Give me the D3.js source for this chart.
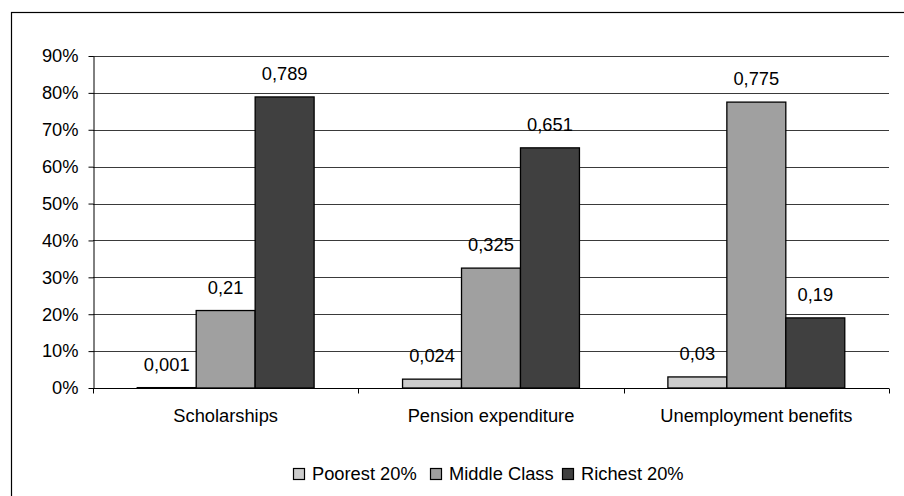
<!DOCTYPE html>
<html>
<head>
<meta charset="utf-8">
<script src="https://cdn.jsdelivr.net/npm/d3@7"></script>
<style>
  html, body { margin: 0; padding: 0; background: #fff; }
  svg { display: block; font-family: "Liberation Sans", Arial, sans-serif; }
</style>
</head>
<body>
<svg id="chart" width="904" height="496"></svg>
<script>
// Share of each programme's spending received by income group
const categories = ["Scholarships", "Pension expenditure", "Unemployment benefits"];
const seriesNames = ["Poorest 20%", "Middle Class", "Richest 20%"];
const poorest = [0.001, 0.024, 0.03];
const middle = [0.21, 0.325, 0.775];
const richest = [0.789, 0.651, 0.19];
const seriesValues = [poorest, middle, richest];
const yTicks = [0, 0.1, 0.2, 0.3, 0.4, 0.5, 0.6, 0.7, 0.8, 0.9];
const colors = ["#cccccc", "#a0a0a0", "#404040"];

const FS = 18.3;
const svg = d3.select("#chart");

// chart frame
svg.append("rect")
  .attr("x", 11.5).attr("y", 12.5)
  .attr("width", 1000).attr("height", 1000)
  .attr("fill", "none").attr("stroke", "#000").attr("stroke-width", 1.2);

const plot = { left: 93, right: 889, top: 56, bottom: 388 };

const x0 = d3.scaleBand().domain(categories)
  .range([plot.left, plot.right]).paddingInner(0).paddingOuter(0);
const x1 = d3.scaleBand().domain(seriesNames)
  .range([0, x0.bandwidth()]).paddingInner(0).paddingOuter(0.75);
const y = d3.scaleLinear().domain([0, 0.9]).range([plot.bottom, plot.top]);

// gridlines
svg.append("g").selectAll("line").data(yTicks.filter(d => d > 0)).join("line")
  .attr("x1", plot.left).attr("x2", plot.right)
  .attr("y1", d => Math.round(y(d)) + 0.5).attr("y2", d => Math.round(y(d)) + 0.5)
  .attr("stroke", "#3a3a3a").attr("stroke-width", 1);

// y axis
const yAxis = svg.append("g").attr("transform", `translate(${plot.left + 0.5},0)`)
  .call(d3.axisLeft(y).tickValues(yTicks).tickFormat(d3.format(".0%")).tickSize(5).tickPadding(10).tickSizeOuter(0));
yAxis.select(".domain").attr("stroke", "#000");
yAxis.selectAll(".tick line").attr("stroke", "#000");
yAxis.selectAll(".tick text").attr("font-size", FS).attr("fill", "#000")
  .attr("font-family", "Liberation Sans, Arial, sans-serif");

// bars
const groups = svg.append("g").selectAll("g").data(categories).join("g")
  .attr("transform", d => `translate(${x0(d)},0)`);

groups.each(function(cat, ci) {
  const g = d3.select(this);
  seriesNames.forEach((s, si) => {
    const v = seriesValues[si][ci];
    g.append("rect")
      .attr("x", x1(s)).attr("width", x1.bandwidth())
      .attr("y", y(v)).attr("height", Math.max(0, y(0) - y(v)))
      .attr("fill", colors[si]).attr("stroke", "#000").attr("stroke-width", 1.3);
    g.append("text")
      .attr("x", x1(s) + x1.bandwidth() / 2)
      .attr("y", y(v) - 17)
      .attr("text-anchor", "middle")
      .attr("font-size", FS).attr("fill", "#000")
      .text(String(v).replace(".", ","));
  });
});

// x axis
const xAxis = svg.append("g").attr("transform", `translate(0,${plot.bottom + 0.5})`);
xAxis.append("line").attr("x1", plot.left).attr("x2", plot.right)
  .attr("stroke", "#000");
xAxis.selectAll("line.tk").data(d3.range(categories.length + 1)).join("line")
  .attr("class", "tk")
  .attr("x1", i => Math.round(plot.left + i * x0.bandwidth()) + 0.5)
  .attr("x2", i => Math.round(plot.left + i * x0.bandwidth()) + 0.5)
  .attr("y1", 0).attr("y2", 5).attr("stroke", "#000");
xAxis.selectAll("text").data(categories).join("text")
  .attr("x", d => x0(d) + x0.bandwidth() / 2)
  .attr("y", 33)
  .attr("text-anchor", "middle")
  .attr("font-size", FS).attr("fill", "#000")
  .text(d => d);

// legend
const legendItems = [
  { name: seriesNames[0], x: 293 },
  { name: seriesNames[1], x: 430 },
  { name: seriesNames[2], x: 562 }
];
const legend = svg.append("g").attr("transform", "translate(0,468)");
legendItems.forEach((it, i) => {
  legend.append("rect")
    .attr("x", it.x + 0.5).attr("y", 0.5).attr("width", 11).attr("height", 11)
    .attr("fill", colors[i]).attr("stroke", "#000").attr("stroke-width", 1.2);
  legend.append("text")
    .attr("x", it.x + 19).attr("y", 11.5)
    .attr("font-size", FS).attr("fill", "#000")
    .text(it.name);
});
</script>
</body>
</html>
